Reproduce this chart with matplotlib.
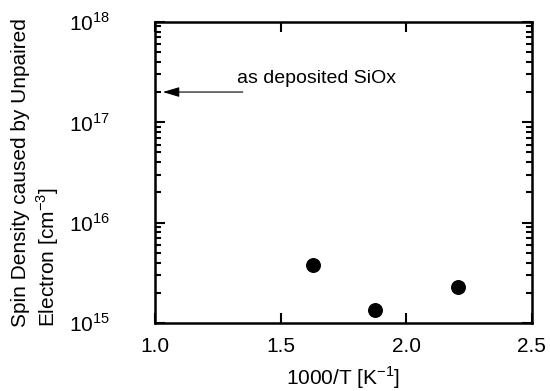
import numpy as np
import matplotlib.pyplot as plt
from matplotlib.ticker import LogLocator, FixedLocator

plt.rcParams["font.family"] = ["Liberation Sans", "DejaVu Sans"]
plt.rcParams["mathtext.fontset"] = "custom"
plt.rcParams["mathtext.rm"] = "Liberation Sans"

# data
inv_temp = [1.63, 1.875, 2.205]
spin_density = [3.8e15, 1.35e15, 2.3e15]
as_deposited = 2.0e17

fig = plt.figure(figsize=(5.5, 3.91), dpi=100)
ax = fig.add_axes([0.282, 0.174, 0.685, 0.770])

ax.scatter(inv_temp, spin_density, s=95, color="black", zorder=3)

ax.set_xlim(1.0, 2.5)
ax.set_yscale("log")
ax.set_ylim(1e15, 1e18)

ax.xaxis.set_major_locator(FixedLocator([1.0, 1.5, 2.0, 2.5]))
ax.set_xticklabels(["1.0", "1.5", "2.0", "2.5"])
ax.yaxis.set_minor_locator(LogLocator(base=10, subs=np.arange(2, 10), numticks=20))
ax.set_yticks([1e15, 1e16, 1e17, 1e18])
ax.set_yticklabels(["$10^{15}$", "$10^{16}$", "$10^{17}$", "$10^{18}$"])

ax.tick_params(axis="both", which="major", direction="in", top=True, right=True,
               length=7, width=1.5, labelsize=15, pad=10)
ax.tick_params(axis="y", which="minor", direction="in", left=True, right=True,
               length=4, width=1.5)
ax.tick_params(axis="y", which="major", pad=62)
for lbl in ax.get_yticklabels():
    lbl.set_horizontalalignment("left")
for sp in ax.spines.values():
    sp.set_linewidth(1.8)

ax.set_xlabel("1000/T [K$^{-1}$]", fontsize=15, labelpad=6)
ax.set_ylabel("Spin Density caused by Unpaired\nElectron [cm$^{-3}$]", fontsize=15,
              multialignment="left")
ax.yaxis.set_label_coords(-0.25, 0.5)

ax.annotate("", xy=(1.02, as_deposited), xytext=(1.36, as_deposited),
            arrowprops=dict(arrowstyle="-|>,head_length=1.0,head_width=0.3",
                            color="black", lw=0.8))
ax.text(1.325, 2.75e17, "as deposited SiOx", fontsize=14, va="center", ha="left")

fig.savefig("out.png", dpi=100)
